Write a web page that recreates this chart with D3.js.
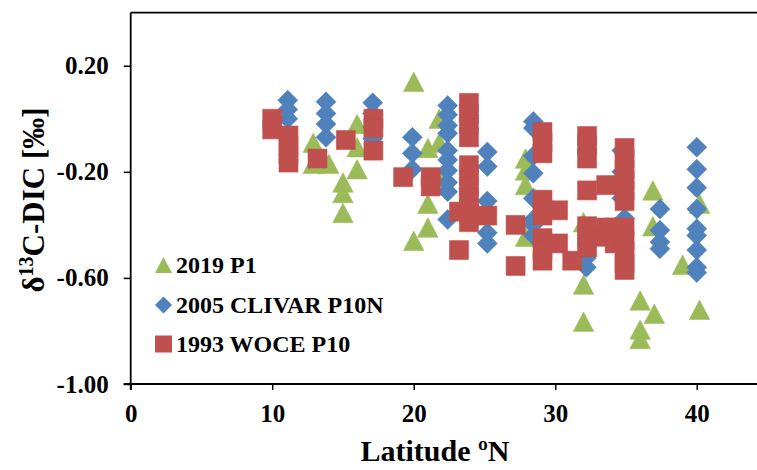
<!DOCTYPE html>
<html>
<head>
<meta charset="utf-8">
<script src="https://cdn.jsdelivr.net/npm/d3@7"></script>
<style>
  html, body { margin: 0; padding: 0; background: #fff; }
  svg { display: block; font-family: "Liberation Serif", "Times New Roman", serif; font-weight: bold; }
</style>
</head>
<body>
<div id="graph_container"></div>
<script>
// series: [latitude, d13C-DIC]
var p1_2019 = [
    [12.9,-0.09],[12.9,-0.17],[14.0,-0.17],[15.0,-0.24],[15.0,-0.28],[15.0,-0.355],
    [16.0,-0.02],[16.0,-0.107],[16.0,-0.19],[20.0,0.14],[20.0,-0.46],
    [21.0,-0.11],[21.0,-0.32],[21.0,-0.41],[21.8,0.0],[21.8,-0.09],[22.0,-0.23],
    [27.9,-0.15],[27.9,-0.195],[27.9,-0.25],[27.9,-0.445],
    [32.0,-0.39],[32.0,-0.625],[32.0,-0.765],
    [36.0,-0.685],[36.0,-0.795],[36.0,-0.83],[36.9,-0.27],[36.9,-0.405],[37.0,-0.735],
    [39.0,-0.55],[40.2,-0.32],[40.2,-0.72]
];
var clivar_2005 = [
    [11.1,0.07],[11.1,0.035],[11.1,0.0],
    [13.8,0.064],[13.8,0.02],[13.8,-0.02],[13.8,-0.07],
    [17.1,0.06],[17.1,0.02],[17.1,-0.03],[17.1,-0.075],
    [19.9,-0.07],[19.9,-0.13],[19.9,-0.19],
    [22.4,0.05],[22.4,0.015],[22.4,-0.025],[22.4,-0.055],[22.4,-0.12],[22.4,-0.155],
    [22.4,-0.195],[22.4,-0.24],[22.4,-0.275],[22.4,-0.38],
    [25.2,-0.125],[25.2,-0.18],[25.2,-0.31],[25.2,-0.43],[25.2,-0.47],
    [28.45,-0.01],[28.45,-0.035],[28.45,-0.14],[28.45,-0.205],[28.45,-0.30],
    [28.45,-0.38],[28.45,-0.40],[28.45,-0.44],
    [32.2,-0.525],[32.2,-0.56],
    [34.7,-0.12],[34.7,-0.2],[34.7,-0.3],[34.9,-0.375],
    [37.4,-0.34],[37.4,-0.42],[37.4,-0.465],[37.4,-0.49],
    [40.0,-0.107],[40.0,-0.19],[40.0,-0.26],[40.0,-0.34],[40.0,-0.415],
    [40.0,-0.44],[40.0,-0.495],[40.0,-0.56],[40.0,-0.58]
];
var woce_1993 = [
    [10.0,0.0],[10.0,-0.04],
    [11.15,-0.063],[11.15,-0.10],[11.15,-0.135],[11.15,-0.165],
    [13.2,-0.15],[15.2,-0.08],
    [17.15,0.0],[17.15,-0.035],[17.15,-0.12],
    [19.25,-0.22],[21.2,-0.22],[21.2,-0.255],
    [23.2,-0.35],[23.2,-0.495],
    [23.9,0.06],[23.9,0.02],[23.9,-0.02],[23.9,-0.07],[23.9,-0.175],[23.9,-0.215],
    [23.9,-0.255],[23.9,-0.295],[23.9,-0.335],[23.9,-0.39],
    [25.2,-0.365],[27.2,-0.40],[27.2,-0.555],
    [29.1,-0.05],[29.1,-0.09],[29.1,-0.13],[29.1,-0.305],[29.1,-0.365],
    [29.1,-0.45],[29.1,-0.495],[29.1,-0.535],
    [30.2,-0.345],[30.2,-0.47],[31.2,-0.535],
    [32.25,-0.065],[32.25,-0.10],[32.25,-0.15],[32.25,-0.27],[32.25,-0.405],
    [32.25,-0.445],[32.25,-0.485],
    [33.6,-0.25],[33.6,-0.41],[33.6,-0.445],[34.2,-0.41],[34.2,-0.47],
    [34.9,-0.11],[34.9,-0.15],[34.9,-0.19],[34.9,-0.23],[34.9,-0.27],[34.9,-0.31],
    [34.9,-0.41],[34.9,-0.46],[34.9,-0.50],[34.9,-0.545],[34.9,-0.57]
];

var x_ticks = [0, 10, 20, 30, 40];
var y_ticks = [0.20, -0.20, -0.60, -1.00];
var series_names = ["2019 P1", "2005 CLIVAR P10N", "1993 WOCE P10"];

var width  = 757;
var height = 470;

var svg = d3.select("#graph_container").append("svg")
    .attr("width", width).attr("height", height);

var x = d3.scaleLinear().domain([0, 45]).range([130.7, 767.5]);
var y = d3.scaleLinear().domain([-1.0, 0.4]).range([384, 12.7]);

// marker shapes
function triangle(s) { var h = s * 0.95; return "M0," + (-h/2) + "L" + (s/2) + "," + (h/2) + "L" + (-s/2) + "," + (h/2) + "Z"; }
function diamond(s)  { return "M0," + (-s/2) + "L" + (s/2) + ",0L0," + (s/2) + "L" + (-s/2) + ",0Z"; }
function square(s)   { return "M" + (-s/2) + "," + (-s/2) + "h" + s + "v" + s + "h" + (-s) + "Z"; }

var series = [
    { name: series_names[0], data: p1_2019,     color: "#9BBB59", shape: triangle, size: 20.5 },
    { name: series_names[1], data: clivar_2005, color: "#4F81BD", shape: diamond,  size: 20   },
    { name: series_names[2], data: woce_1993,   color: "#C0504D", shape: square,   size: 19   }
];

// points
series.forEach(function(s) {
    svg.append("g").selectAll("path").data(s.data).enter().append("path")
        .attr("transform", function(d) { return "translate(" + x(d[0]) + "," + y(d[1]) + ")"; })
        .attr("d", s.shape(s.size))
        .attr("fill", s.color)
        .attr("stroke", s.color)
        .attr("stroke-width", 0.8)
        .attr("stroke-opacity", 0.7);
});

// axes
var xAxis = d3.axisBottom(x).tickValues(x_ticks).tickSize(6).tickFormat(d3.format("d"));
var gx = svg.append("g").attr("transform", "translate(0," + y(-1.0) + ")").call(xAxis);
gx.select(".domain").remove();
gx.selectAll(".tick line").attr("stroke", "#000").attr("stroke-width", 1.5);
gx.selectAll(".tick text").attr("y", 20).attr("dy", "0.71em")
    .attr("font-size", 25).attr("font-weight", "bold").attr("fill", "#000")
    .attr("font-family", "Liberation Serif, serif");

var yAxis = d3.axisLeft(y).tickValues(y_ticks).tickSize(7).tickFormat(function(d) { return d3.format(".2f")(d).replace("−", "-"); });
var gy = svg.append("g").attr("transform", "translate(" + x(0) + ",0)").call(yAxis);
gy.select(".domain").remove();
gy.selectAll(".tick line").attr("stroke", "#000").attr("stroke-width", 1.5);
gy.selectAll(".tick text").attr("x", -22)
    .attr("font-size", 25).attr("font-weight", "bold").attr("fill", "#000")
    .attr("font-family", "Liberation Serif, serif");

// axis lines (left, bottom, top)
svg.append("line").attr("x1", x(0)).attr("x2", x(0)).attr("y1", y(0.4)).attr("y2", y(-1.0) + 6)
    .attr("stroke", "#000").attr("stroke-width", 1.8);
svg.append("line").attr("x1", x(0) - 7).attr("x2", width).attr("y1", y(-1.0)).attr("y2", y(-1.0))
    .attr("stroke", "#000").attr("stroke-width", 1.8);
svg.append("line").attr("x1", x(0)).attr("x2", width).attr("y1", y(0.4)).attr("y2", y(0.4))
    .attr("stroke", "#000").attr("stroke-width", 1.8);

// axis titles
svg.append("text").attr("x", 435).attr("y", 461).attr("text-anchor", "middle")
    .attr("font-size", 30).text("Latitude ºN");

var yt = svg.append("text").attr("transform", "translate(44,200) rotate(-90)")
    .attr("text-anchor", "middle").attr("font-size", 31);
yt.append("tspan").text("δ");
yt.append("tspan").attr("font-size", 20).attr("dy", -11).text("13");
yt.append("tspan").attr("dy", 11).text("C-DIC [‰]");

// legend
var legend = svg.append("g");
var leg_y = [265, 305, 344];
series.forEach(function(s, i) {
    legend.append("path")
        .attr("transform", "translate(163.5," + leg_y[i] + ")")
        .attr("d", s.shape(17))
        .attr("fill", s.color);
    legend.append("text")
        .attr("x", 176).attr("y", leg_y[i] + 8)
        .attr("font-size", 24).attr("fill", "#000")
        .text(s.name);
});
</script>
</body>
</html>
